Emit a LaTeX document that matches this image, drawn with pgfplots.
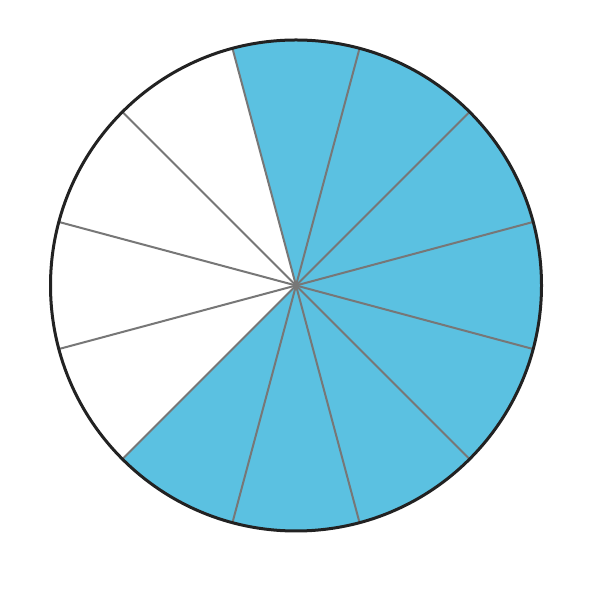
\documentclass[border=0pt]{standalone}
\usepackage{pgfplots}
\usepackage{pgfplotstable}
\pgfplotsset{compat=1.18}
\definecolor{pieblue}{HTML}{5BC1E1}
\definecolor{rimgray}{HTML}{777777}
\definecolor{rimblack}{HTML}{222222}

% twelve equal slices, clockwise from 105 degrees
\pgfplotstableread{
start end col
105 75 pieblue
75 45 pieblue
45 15 pieblue
15 -15 pieblue
-15 -45 pieblue
-45 -75 pieblue
-75 -105 pieblue
-105 -135 pieblue
-135 -165 white
-165 -195 white
-195 -225 white
-225 -255 white
}\slices

\begin{document}
\begin{tikzpicture}
\begin{axis}[
    scale only axis,
    width=594bp, height=594bp,
    xmin=0, xmax=594, ymin=0, ymax=594,
    hide axis, clip=false]
  \addplot[draw=none, mark=none] coordinates {(0,0) (594,594)};
  % fills first
  \pgfplotsinvokeforeach{0,...,11}{
    \pgfplotstablegetelem{#1}{start}\of\slices \edef\sa{\pgfplotsretval}
    \pgfplotstablegetelem{#1}{end}\of\slices \edef\ea{\pgfplotsretval}
    \pgfplotstablegetelem{#1}{col}\of\slices \edef\cl{\pgfplotsretval}
    \edef\temp{\noexpand\fill[\cl] (axis cs:296,308.5) -- ++(\sa:245.5bp)
      arc[start angle=\sa, end angle=\ea, radius=245.5bp] -- cycle;}
    \temp
  }
  % then the dividing lines
  \pgfplotsinvokeforeach{0,...,11}{
    \pgfplotstablegetelem{#1}{start}\of\slices \edef\sa{\pgfplotsretval}
    \edef\temp{\noexpand\draw[rimgray, line width=2bp] (axis cs:296,308.5) -- ++(\sa:245.5bp);}
    \temp
  }
  \draw[rimblack, line width=3bp] (axis cs:296,308.5) circle[radius=245.5bp];
\end{axis}
\end{tikzpicture}
\end{document}
